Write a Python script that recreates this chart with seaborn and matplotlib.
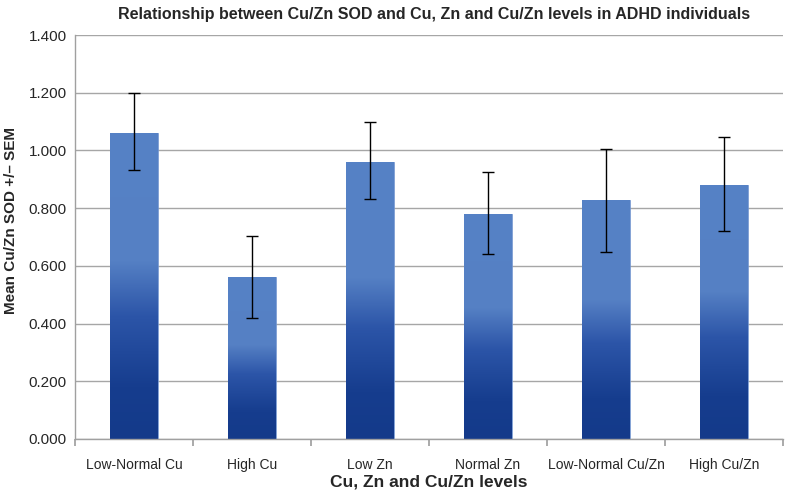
import numpy as np
import pandas as pd
import matplotlib
matplotlib.use("Agg")
import matplotlib.pyplot as plt
import seaborn as sns
from matplotlib.colors import LinearSegmentedColormap

categories = ["Low-Normal Cu", "High Cu", "Low Zn", "Normal Zn", "Low-Normal Cu/Zn", "High Cu/Zn"]
means = [1.062, 0.560, 0.960, 0.780, 0.828, 0.880]
err_lower = [0.932, 0.418, 0.832, 0.642, 0.648, 0.720]
err_upper = [1.198, 0.702, 1.098, 0.924, 1.005, 1.048]
yticks = [0.0, 0.2, 0.4, 0.6, 0.8, 1.0, 1.2, 1.4]

sns.set_theme(style="white")
plt.rcParams['font.family'] = ['Liberation Sans', 'DejaVu Sans']

fig = plt.figure(figsize=(7.88, 4.97), dpi=100)
ax = fig.add_axes([75/788, 1-439/497, (783-75)/788, (439-35)/497])

df = pd.DataFrame({"cat": categories, "val": means})
sns.barplot(data=df, x="cat", y="val", ax=ax, width=0.4, color="#5580c4",
            errorbar=None, zorder=2)

cmap = LinearSegmentedColormap.from_list(
    "g", [(0.0, "#143a8a"), (0.17, "#163d8e"), (0.40, "#2c55a8"), (0.58, "#5580c4"), (1.0, "#5682c6")])
grad = np.linspace(0, 1, 256).reshape(-1, 1)
for p in ax.patches:
    x0, y0 = p.get_x(), p.get_y()
    w, h = p.get_width(), p.get_height()
    p.set_facecolor("none")
    p.set_edgecolor("#6f93cf")
    p.set_linewidth(0.6)
    im = ax.imshow(grad, cmap=cmap, origin="lower", aspect="auto",
                   extent=[x0, x0 + w, y0, y0 + h], zorder=2.5, interpolation="bilinear")
    im.set_clip_path(p)

xs = np.arange(len(categories))
m = np.array(means)
yerr = np.vstack([m - np.array(err_lower), np.array(err_upper) - m])
ax.errorbar(xs, m, yerr=yerr, fmt="none", ecolor="black", elinewidth=1.0,
            capsize=4, capthick=1.0, zorder=4)

ax.set_xlim(-0.5, len(categories) - 0.5)
ax.set_ylim(0, 1.4)
ax.set_yticks(yticks)
ax.set_yticklabels([f"{v:.3f}" for v in yticks], fontsize=11)
ax.yaxis.grid(True, color="#a6a6a6", linewidth=1.0, zorder=0)
ax.set_axisbelow(True)
ax.set_xticks(np.arange(-0.5, len(categories), 1.0), minor=False)
ax.set_xticklabels([])
ax.set_xticks(xs, minor=True)
ax.set_xticklabels(categories, minor=True, fontsize=10)
ax.tick_params(axis="x", which="major", length=5, color="#a0a0a0", direction="out", bottom=True)
ax.tick_params(axis="x", which="minor", length=0, pad=14)
ax.tick_params(axis="y", length=0, pad=6)

for s in ["top", "right"]:
    ax.spines[s].set_visible(False)
for s in ["left", "bottom"]:
    ax.spines[s].set_color("#a0a0a0")
    ax.spines[s].set_linewidth(1.0)

ax.set_xlabel("")
ax.set_ylabel("")
fig.text(429/788, 1-482/497, "Cu, Zn and Cu/Zn levels", ha="center", va="center",
         fontsize=12.5, fontweight="bold")
fig.text(11/788, 1-221/497, "Mean Cu/Zn SOD +/\u2013 SEM", ha="center", va="center",
         rotation=90, fontsize=11, fontweight="bold")
fig.text(434/788, 1-14/497, "Relationship between Cu/Zn SOD and Cu, Zn and Cu/Zn levels in ADHD individuals",
         ha="center", va="center", fontsize=11.5, fontweight="bold")

fig.savefig("out.png", dpi=100)
